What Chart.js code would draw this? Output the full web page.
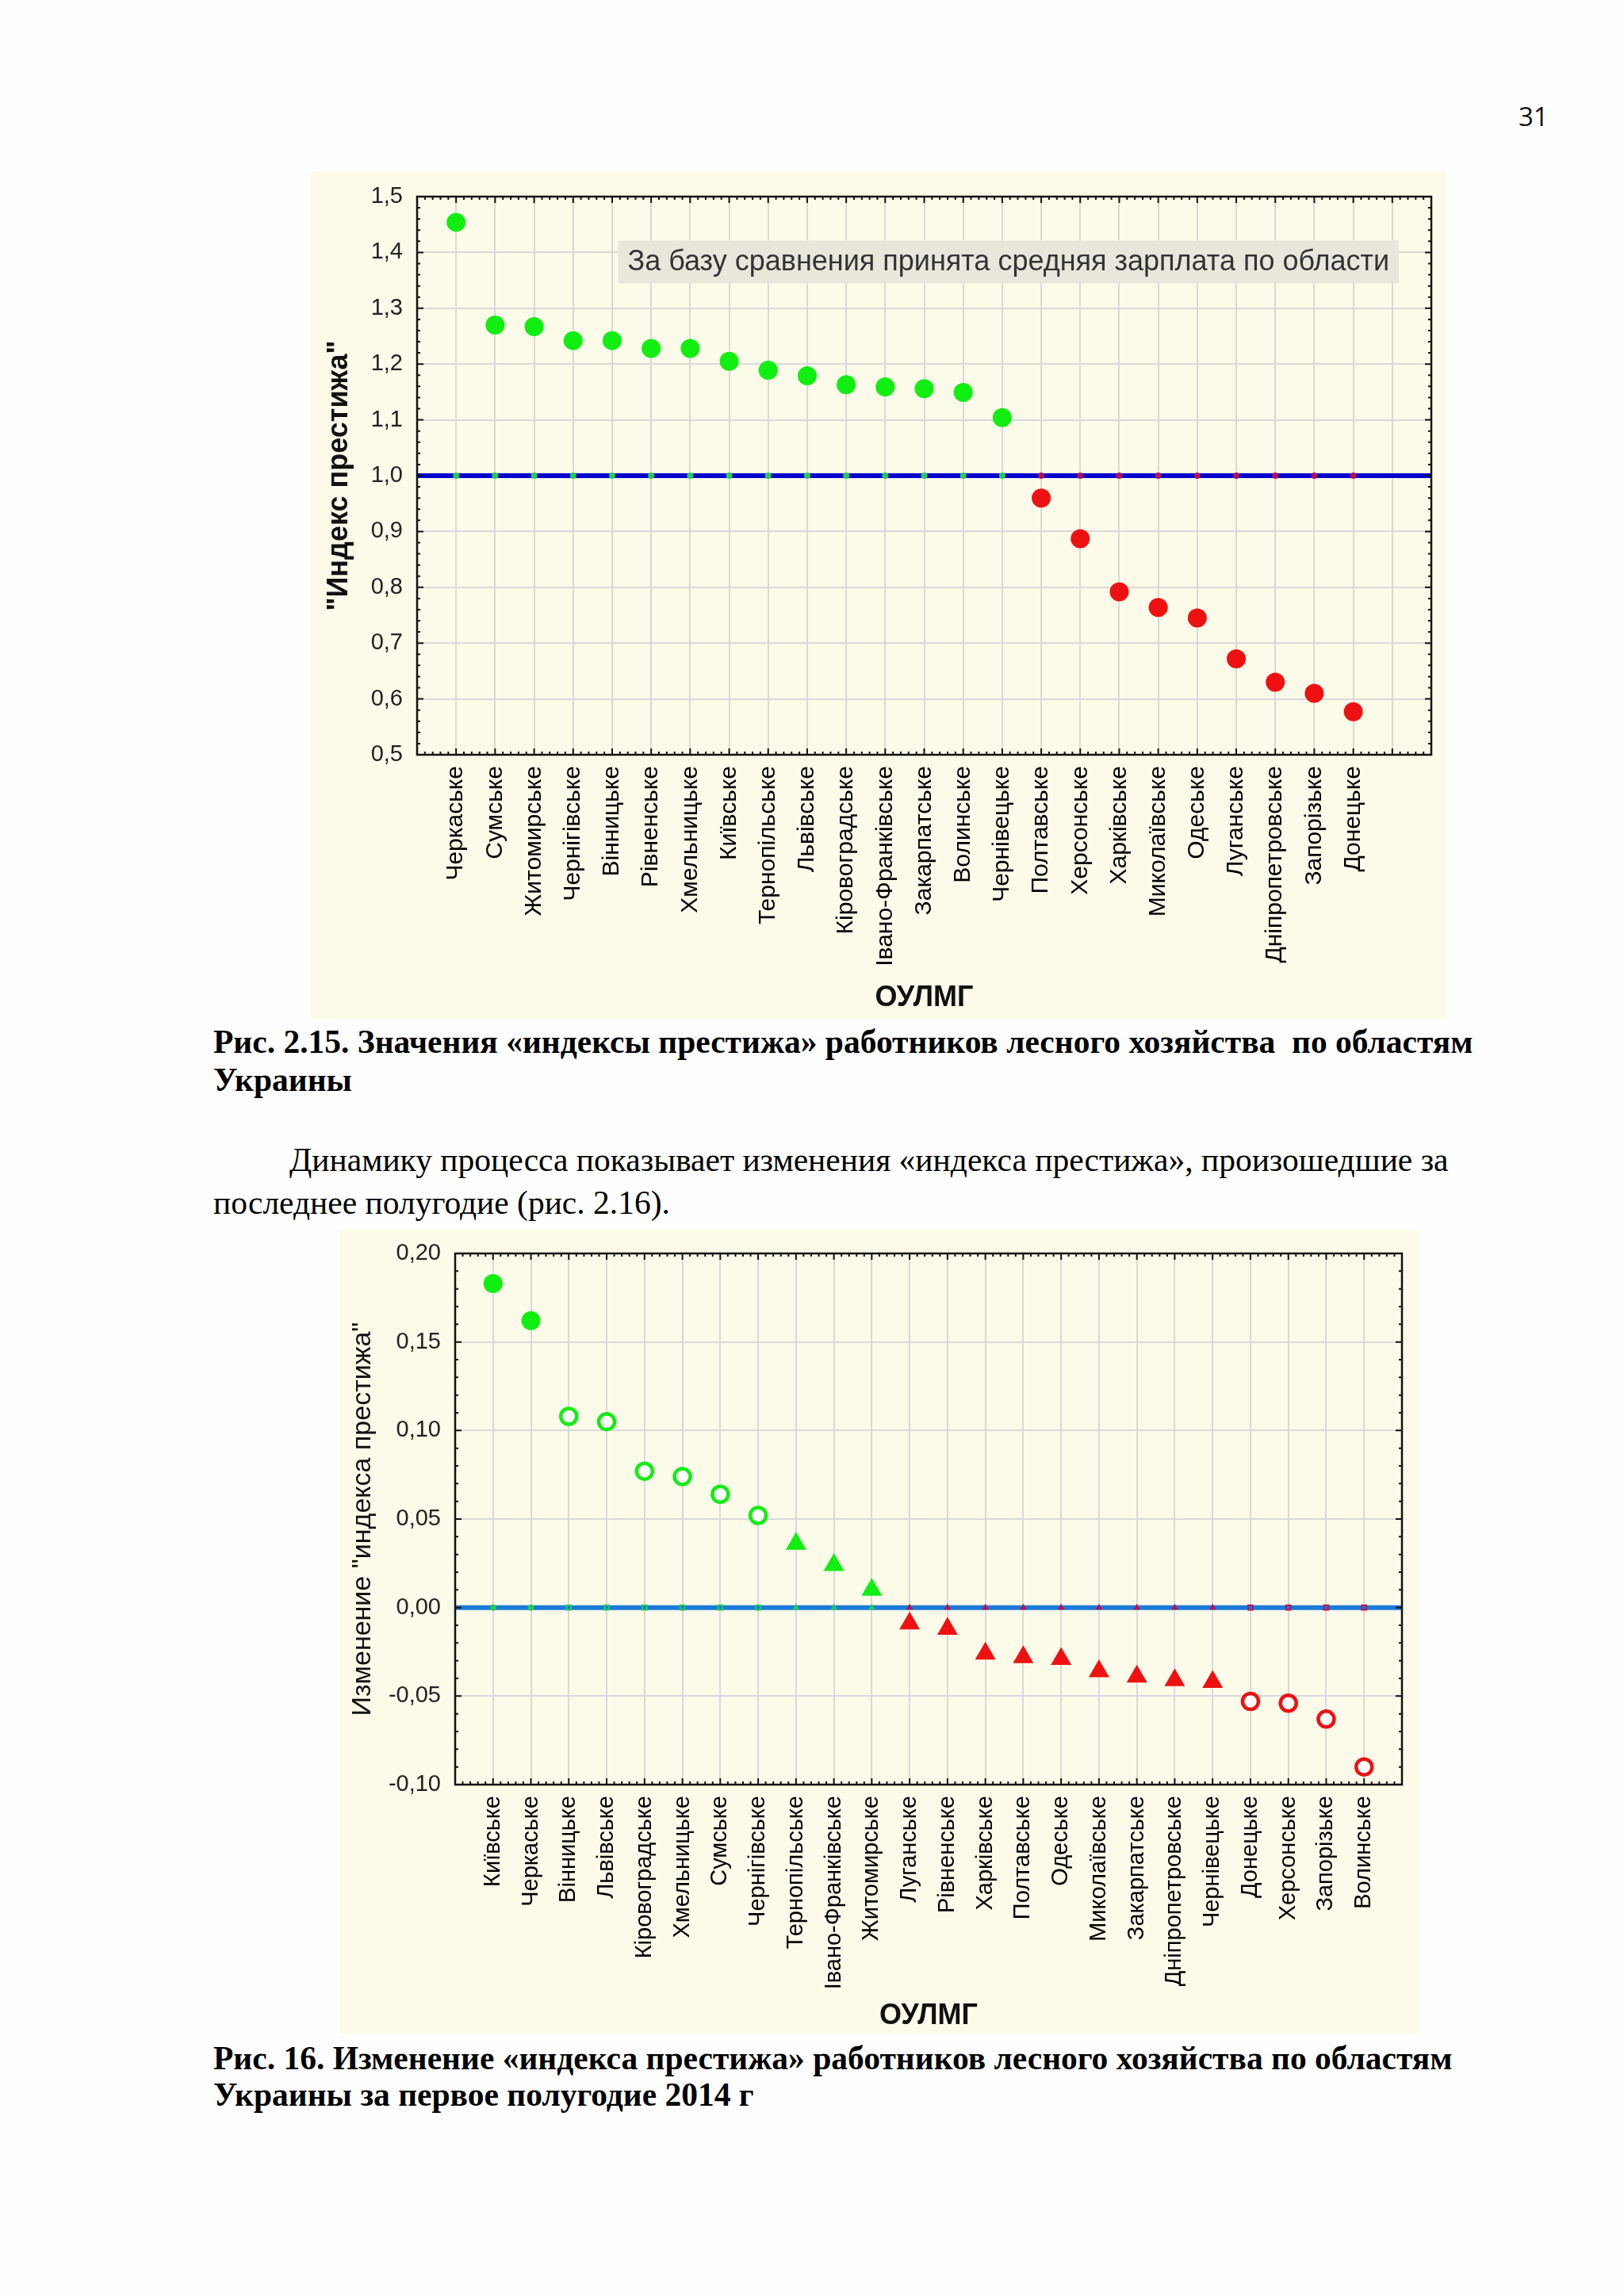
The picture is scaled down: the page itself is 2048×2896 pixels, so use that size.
<!DOCTYPE html>
<html lang="ru">
<head>
<meta charset="UTF-8">
<title>Индекс престижа</title>
<script src="https://cdn.jsdelivr.net/npm/chart.js"></script>
<style>
    body { margin: 0; background: #fefefe; }
    .page { position: relative; width: 2048px; height: 2896px; background: #fefefe; overflow: hidden; }
    .panel { position: absolute; background: #fcfae9; }
    #panel1 { left: 391px; top: 216px; width: 1432px; height: 1070px; }
    #panel2 { left: 428px; top: 1550px; width: 1362px; height: 1015px; }
    .txt { position: absolute; font-family: 'Liberation Serif', 'Times New Roman', serif; font-size: 41.5px; line-height: 42px; color: #000; white-space: nowrap; }
    .b { font-weight: bold; }
    .num { position: absolute; left: 1915px; top: 124px; font-family: 'Open Sans', sans-serif; font-size: 33px; color: #111; }
</style>
</head>
<body>
<div class="page">
    <div class="num">31</div>

    <div class="panel" id="panel1"><canvas id="chart1" width="1432" height="1070"></canvas></div>

    <div class="txt b" style="left:269px; top:1293px;">Рис. 2.15. Значения «индексы престижа» работников лесного хозяйства &nbsp;по областям</div>
    <div class="txt b" style="left:269px; top:1341px;">Украины</div>

    <div class="txt" style="left:365px; top:1442px;">Динамику процесса показывает изменения «индекса престижа», произошедшие за</div>
    <div class="txt" style="left:269px; top:1496px;">последнее полугодие (рис. 2.16).</div>

    <div class="panel" id="panel2"><canvas id="chart2" width="1362" height="1015"></canvas></div>

    <div class="txt b" style="left:269px; top:2575px;">Рис. 16. Изменение «индекса престижа» работников лесного хозяйства по областям</div>
    <div class="txt b" style="left:269px; top:2621px;">Украины за первое полугодие 2014 г</div>
</div>

<script>
    // рис. 2.15 - индекс престижа по областям
    const regions1 = ['Черкаське', 'Сумське', 'Житомирське', 'Чернігівське', 'Вінницьке', 'Рівненське',
        'Хмельницьке', 'Київське', 'Тернопільське', 'Львівське', 'Кіровоградське', 'Івано-Франківське',
        'Закарпатське', 'Волинське', 'Чернівецьке', 'Полтавське', 'Херсонське', 'Харківське',
        'Миколаївське', 'Одеське', 'Луганське', 'Дніпропетровське', 'Запорізьке', 'Донецьке'];
    const prestige1 = [1.454, 1.270, 1.267, 1.242, 1.242, 1.228, 1.228, 1.205, 1.189, 1.179, 1.163, 1.159,
        1.156, 1.149, 1.104, 0.960, 0.887, 0.792, 0.764, 0.745, 0.672, 0.630, 0.610, 0.577];
    const yRange1 = [0.5, 1.5, 0.1];   // min, max, шаг
    const base1 = 1.0;
    const note1 = 'За базу сравнения принята средняя зарплата по области';

    // рис. 16 - изменение индекса за полугодие
    const regions2 = ['Київське', 'Черкаське', 'Вінницьке', 'Львівське', 'Кіровоградське', 'Хмельницьке',
        'Сумське', 'Чернігівське', 'Тернопільське', 'Івано-Франківське', 'Житомирське', 'Луганське',
        'Рівненське', 'Харківське', 'Полтавське', 'Одеське', 'Миколаївське', 'Закарпатське',
        'Дніпропетровське', 'Чернівецьке', 'Донецьке', 'Херсонське', 'Запорізьке', 'Волинське'];
    const change2 = [0.183, 0.162, 0.108, 0.105, 0.077, 0.074, 0.064, 0.052, 0.036, 0.024, 0.010, -0.009,
        -0.012, -0.026, -0.028, -0.029, -0.036, -0.039, -0.041, -0.042, -0.053, -0.054, -0.063, -0.090];
    const yRange2 = [-0.10, 0.20, 0.05];
    const base2 = 0.0;

    const xTitle = 'ОУЛМГ';

    const GREEN = '#11ee11';
    const RED = '#ee1111';
    const SANS = "'Liberation Sans', Arial, sans-serif";

    // рамка, внутренние засечки, базовая линия и подпись
    const framePlugin = {
        id: 'frame',
        beforeDatasetsDraw(chart, args, opts) {
            const { ctx, chartArea: a, scales: { x, y } } = chart;
            ctx.save();
            if (opts.note) {
                ctx.font = '36px ' + SANS;
                const w = ctx.measureText(opts.note.text).width;
                const cx = x.getPixelForValue(opts.note.x);
                const cy = y.getPixelForValue(opts.note.y);
                ctx.fillStyle = '#e9e7dc';
                ctx.fillRect(cx - w / 2 - 12, cy - 27, w + 24, 54);
                ctx.fillStyle = '#333';
                ctx.textAlign = 'center';
                ctx.textBaseline = 'middle';
                ctx.fillText(opts.note.text, cx, cy + 1);
            }
            const yb = y.getPixelForValue(opts.base);
            ctx.strokeStyle = opts.baseColor;
            ctx.lineWidth = 6;
            ctx.beginPath();
            ctx.moveTo(a.left, yb);
            ctx.lineTo(a.right, yb);
            ctx.stroke();
            ctx.restore();
        },
        afterDraw(chart, args, opts) {
            const { ctx, chartArea: a, scales: { x, y } } = chart;
            ctx.save();
            ctx.strokeStyle = '#111';
            ctx.lineWidth = 2;
            // засечки по x
            let n = Math.round((x.max - x.min) / opts.xMinor);
            let k = Math.round(1 / opts.xMinor);
            for (let i = 0; i <= n; i++) {
                const px = x.getPixelForValue(x.min + i * opts.xMinor);
                const len = i % k === 0 ? 8 : 4;
                ctx.beginPath();
                ctx.moveTo(px, a.bottom); ctx.lineTo(px, a.bottom - len);
                ctx.moveTo(px, a.top); ctx.lineTo(px, a.top + len);
                ctx.stroke();
            }
            // засечки по y
            n = Math.round((y.max - y.min) / opts.yMinor);
            k = Math.round(opts.yMajor / opts.yMinor);
            for (let i = 0; i <= n; i++) {
                const py = y.getPixelForValue(y.min + i * opts.yMinor);
                const len = i % k === 0 ? 8 : 4;
                ctx.beginPath();
                ctx.moveTo(a.left, py); ctx.lineTo(a.left + len, py);
                ctx.moveTo(a.right, py); ctx.lineTo(a.right - len, py);
                ctx.stroke();
            }
            ctx.lineWidth = 2.5;
            ctx.strokeRect(a.left, a.top, a.right - a.left, a.bottom - a.top);
            ctx.restore();
        }
    };

    function commaFmt(v, d) {
        if (Math.abs(v) < 1e-9) v = 0;
        return Number(v).toFixed(d).replace('.', ',');
    }

    function scalesFor(o) {
        return {
            x: {
                type: 'linear',
                min: 0,
                max: o.labels.length + o.extra,
                afterFit: (s) => { s.height = o.xHeight; s.paddingLeft = 0; s.paddingRight = 0; },
                grid: { color: '#d9d9d9', lineWidth: 2, drawTicks: false },
                border: { color: '#111', width: 2 },
                ticks: {
                    stepSize: 1,
                    autoSkip: false,
                    maxRotation: 90,
                    minRotation: 90,
                    padding: 14,
                    color: '#000',
                    font: { family: SANS, size: o.xFont },
                    callback: (v) => o.labels[Math.round(v) - 1] || ''
                },
                title: {
                    display: true,
                    text: xTitle,
                    color: '#111',
                    font: { family: SANS, size: 36, weight: 'bold' },
                    padding: { top: 0, bottom: o.xTitlePad }
                }
            },
            y: {
                min: o.range[0],
                max: o.range[1],
                afterFit: (s) => { s.width = o.yWidth; s.paddingTop = 0; s.paddingBottom = 0; },
                grid: { color: '#d9d9d9', lineWidth: 2, drawTicks: false },
                border: { color: '#111', width: 2 },
                ticks: {
                    stepSize: o.range[2],
                    padding: 18,
                    color: '#222',
                    font: { family: SANS, size: 29 },
                    callback: (v) => commaFmt(v, o.digits)
                },
                title: {
                    display: true,
                    text: o.yTitle,
                    color: '#111',
                    font: o.yTitleFont,
                    padding: { top: o.yTitlePad, bottom: 0 }
                }
            }
        };
    }

    // график 1
    const pts1 = regions1.map((r, i) => ({ x: i + 1, y: prestige1[i] }));
    const basePts1 = regions1.map((r, i) => ({ x: i + 1, y: base1 }));
    const side1 = (c) => prestige1[c.dataIndex] >= base1;

    const chart1 = new Chart(document.getElementById('chart1'), {
        type: 'scatter',
        data: {
            datasets: [
                {
                    data: basePts1,
                    pointRadius: 4,
                    pointBorderWidth: 0,
                    pointBackgroundColor: (c) => side1(c) ? '#22cc55' : '#b0105a'
                },
                {
                    data: pts1,
                    pointRadius: 12,
                    pointBorderWidth: 0,
                    pointBackgroundColor: (c) => side1(c) ? GREEN : RED
                }
            ]
        },
        options: {
            responsive: false,
            animation: false,
            events: [],
            layout: { padding: { top: 32, right: 18, left: 0, bottom: 0 } },
            plugins: {
                legend: { display: false },
                tooltip: { enabled: false },
                frame: {
                    base: base1, baseColor: '#0000cc',
                    xMinor: 0.2, yMinor: 0.02, yMajor: yRange1[2],
                    note: { text: note1, x: 15.16, y: 1.383 }
                }
            },
            scales: scalesFor({
                labels: regions1, extra: 2, range: yRange1, digits: 1,
                yTitle: '"Индекс престижа"', yTitleFont: { family: SANS, size: 36, weight: 'bold' },
                yTitlePad: 15, yWidth: 135, xHeight: 334, xFont: 30, xTitlePad: 5
            })
        },
        plugins: [framePlugin]
    });

    // график 2: форма маркера зависит от величины изменения
    const mark2 = (v) => Math.abs(v) >= 0.15 ? 'dot' : (Math.abs(v) >= 0.05 ? 'ring' : 'tri');
    const pts2 = regions2.map((r, i) => ({ x: i + 1, y: change2[i] }));
    const basePts2 = regions2.map((r, i) => ({ x: i + 1, y: base2 }));
    const col2 = (c) => change2[c.dataIndex] >= base2 ? GREEN : RED;
    const kind2 = (c) => mark2(change2[c.dataIndex]);

    const chart2 = new Chart(document.getElementById('chart2'), {
        type: 'scatter',
        data: {
            datasets: [
                {
                    data: basePts2,
                    pointStyle: (c) => ({ dot: 'circle', ring: 'rect', tri: 'triangle' })[kind2(c)],
                    pointRadius: (c) => kind2(c) === 'tri' ? 5 : 4,
                    pointBorderWidth: (c) => kind2(c) === 'ring' ? 2 : 0,
                    pointBorderColor: (c) => change2[c.dataIndex] >= base2 ? '#22cc55' : '#c0104a',
                    pointBackgroundColor: (c) => kind2(c) === 'ring' ? 'rgba(0,0,0,0)'
                        : (change2[c.dataIndex] >= base2 ? '#22cc55' : '#c0104a')
                },
                {
                    data: pts2,
                    pointStyle: (c) => kind2(c) === 'tri' ? 'triangle' : 'circle',
                    pointRadius: (c) => ({ dot: 12, ring: 10, tri: 15 })[kind2(c)],
                    pointBorderWidth: (c) => kind2(c) === 'ring' ? 4.5 : 0,
                    pointBorderColor: col2,
                    pointBackgroundColor: (c) => kind2(c) === 'ring' ? '#ffffff' : col2(c)
                }
            ]
        },
        options: {
            responsive: false,
            animation: false,
            events: [],
            layout: { padding: { top: 31, right: 22, left: 0, bottom: 0 } },
            plugins: {
                legend: { display: false },
                tooltip: { enabled: false },
                frame: {
                    base: base2, baseColor: '#1a7ad8',
                    xMinor: 0.2, yMinor: 0.01, yMajor: yRange2[2]
                }
            },
            scales: scalesFor({
                labels: regions2, extra: 1, range: yRange2, digits: 2,
                yTitle: 'Изменение "индекса престижа"', yTitleFont: { family: SANS, size: 34 },
                yTitlePad: 9, yWidth: 146, xHeight: 314, xFont: 29, xTitlePad: 0
            })
        },
        plugins: [framePlugin]
    });
</script>
</body>
</html>
